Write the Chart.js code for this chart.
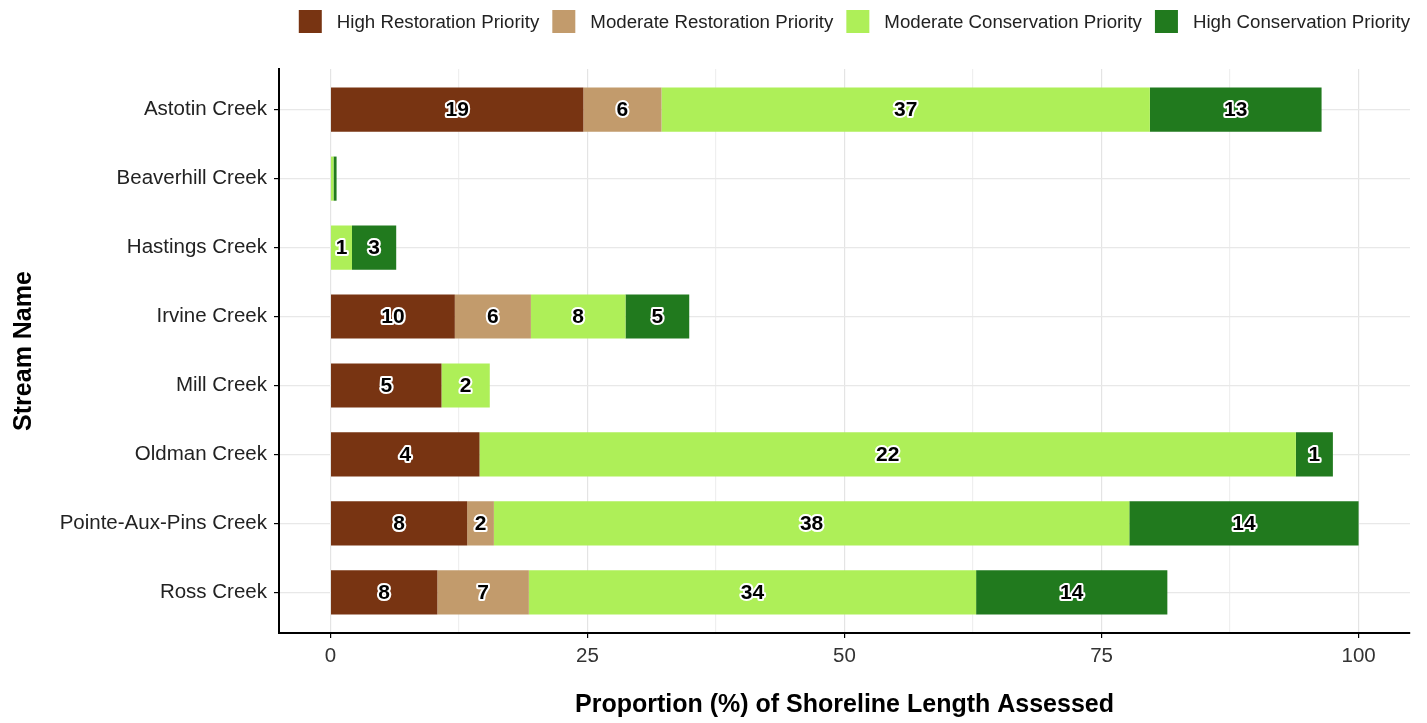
<!DOCTYPE html>
<html>
<head>
<meta charset="utf-8">
<script src="https://cdn.jsdelivr.net/npm/chart.js@4.4.1/dist/chart.umd.min.js"></script>
<style>
  body { margin: 0; background: #fff; }
</style>
</head>
<body>
<canvas id="chart" width="1427" height="723"></canvas>
<script>
var streams = ['Astotin Creek', 'Beaverhill Creek', 'Hastings Creek', 'Irvine Creek',
               'Mill Creek', 'Oldman Creek', 'Pointe-Aux-Pins Creek', 'Ross Creek'];

// share of shoreline length (%) in each priority class
var highRestoration  = [24.6, 0,   0,   12.1, 10.8, 14.5, 13.3, 10.4];
var modRestoration   = [7.6,  0,   0,   7.4,  0,    0,    2.6,  8.9];
var modConservation  = [47.5, 0.3, 2.1, 9.2,  4.7,  79.4, 61.8, 43.5];
var highConservation = [16.7, 0.3, 4.3, 6.2,  0,    3.6,  22.3, 18.6];

// number of assessed segments printed on each bar piece
var highRestorationN  = [19, null, null, 10, 5, 4, 8, 8];
var modRestorationN   = [6, null, null, 6, null, null, 2, 7];
var modConservationN  = [37, null, 1, 8, 2, 22, 38, 34];
var highConservationN = [13, null, 3, 5, null, 1, 14, 14];

var xTicks = [0, 12.5, 25, 37.5, 50, 62.5, 75, 87.5, 100];

var FONT = '"Liberation Sans", Arial, Helvetica, sans-serif';

var toPoints = (values) => values.map((v, i) => ({x: v, y: i + 1}));

var series = [
    {label: 'High Restoration Priority', color: '#783412', values: highRestoration, counts: highRestorationN},
    {label: 'Moderate Restoration Priority', color: '#C29B6C', values: modRestoration, counts: modRestorationN},
    {label: 'Moderate Conservation Priority', color: '#AEEF58', values: modConservation, counts: modConservationN},
    {label: 'High Conservation Priority', color: '#217A1E', values: highConservation, counts: highConservationN}
];

// counts drawn in the middle of each segment, black with a white halo
var barLabels = {
    id: 'barLabels',
    afterDatasetsDraw(chart) {
        var ctx = chart.ctx;
        ctx.save();
        ctx.font = 'bold 21px ' + FONT;
        ctx.textAlign = 'center';
        ctx.textBaseline = 'middle';
        ctx.lineJoin = 'round';
        ctx.lineWidth = 4;
        ctx.strokeStyle = '#fff';
        ctx.fillStyle = '#000';
        series.forEach((s, di) => {
            var meta = chart.getDatasetMeta(di);
            meta.data.forEach((bar, i) => {
                var n = s.counts[i];
                if (n == null) return;
                var p = bar.getProps(['x', 'y', 'base'], true);
                var cx = (p.x + p.base) / 2;
                ctx.strokeText(n, cx, p.y + 1);
                ctx.fillText(n, cx, p.y + 1);
            });
        });
        ctx.restore();
    }
};

// legend row along the top, right aligned with the panel
var topLegend = {
    id: 'topLegend',
    afterDraw(chart) {
        var ctx = chart.ctx;
        var box = 23, textGap = 15, itemGap = 13;
        ctx.save();
        ctx.font = '18.7px ' + FONT;
        ctx.textBaseline = 'middle';
        var widths = series.map(s => box + textGap + ctx.measureText(s.label).width);
        var total = widths.reduce((a, b) => a + b, 0) + itemGap * (series.length - 1);
        var x = chart.chartArea.right - total;
        var y = 10;
        series.forEach((s, i) => {
            ctx.fillStyle = s.color;
            ctx.fillRect(x, y, box, box);
            ctx.fillStyle = '#222';
            ctx.fillText(s.label, x + box + textGap, y + box / 2 + 1);
            x += widths[i] + itemGap;
        });
        ctx.restore();
    }
};

var ctx = document.getElementById('chart').getContext('2d');
var chart = new Chart(ctx, {
    type: 'bar',
    data: {
        datasets: series.map(s => ({
            label: s.label,
            data: toPoints(s.values),
            backgroundColor: s.color,
            borderWidth: 0,
            categoryPercentage: 1,
            barPercentage: 0.64
        }))
    },
    options: {
        indexAxis: 'y',
        responsive: false,
        animation: false,
        layout: {padding: {left: 0, right: 17, top: 69, bottom: 0}},
        plugins: {
            legend: {display: false},
            tooltip: {enabled: false}
        },
        scales: {
            x: {
                type: 'linear',
                stacked: true,
                min: -5,
                max: 105,
                afterBuildTicks: (scale) => { scale.ticks = xTicks.map(v => ({value: v})); },
                afterFit: (scale) => { scale.height = 90; },
                ticks: {
                    autoSkip: false,
                    maxRotation: 0,
                    padding: 6,
                    color: '#333',
                    font: {family: FONT, size: 20.5},
                    callback: (v) => v % 25 === 0 ? v : ''
                },
                grid: {
                    color: (c) => c.tick && c.tick.value % 25 === 0 ? '#e4e4e4' : '#efefef',
                    tickColor: (c) => c.tick && c.tick.value % 25 === 0 ? '#000' : 'rgba(0,0,0,0)',
                    tickLength: 5,
                    lineWidth: 1.2
                },
                border: {color: '#000', width: 2},
                title: {
                    display: true,
                    text: 'Proportion (%) of Shoreline Length Assessed',
                    color: '#000',
                    font: {family: FONT, size: 25, weight: 'bold'},
                    padding: {top: 0, bottom: 3}
                }
            },
            y: {
                type: 'linear',
                stacked: true,
                reverse: true,
                offset: false,
                min: 0.41,
                max: 8.59,
                afterBuildTicks: (scale) => { scale.ticks = streams.map((s, i) => ({value: i + 1})); },
                afterFit: (scale) => { scale.width = 279; },
                ticks: {
                    autoSkip: false,
                    padding: 7,
                    color: '#222',
                    font: {family: FONT, size: 20.5},
                    callback: (v) => streams[v - 1]
                },
                grid: {
                    offset: false,
                    color: '#e8e8e8',
                    tickColor: '#000',
                    tickLength: 5,
                    lineWidth: 1.2
                },
                border: {color: '#000', width: 2},
                title: {
                    display: true,
                    text: 'Stream Name',
                    color: '#000',
                    font: {family: FONT, size: 25, weight: 'bold'},
                    padding: {top: 9, bottom: 0}
                }
            }
        }
    },
    plugins: [barLabels, topLegend]
});
</script>
</body>
</html>
